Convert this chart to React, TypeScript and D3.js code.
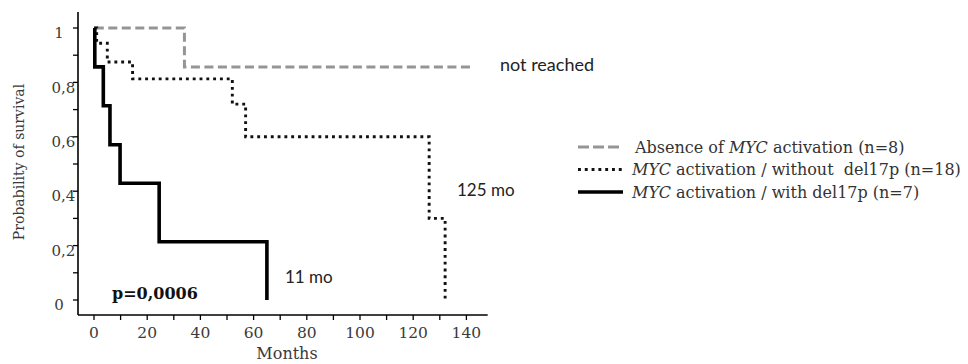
import React from "react";
import * as d3 from "d3";

type Pt = [number, number];

// Kaplan-Meier steps: [month, survival]
const absenceSteps: Pt[] = [[0.3, 1], [34, 1], [34, 0.857], [141.5, 0.857]];
const withoutDelSteps: Pt[] = [
  [0, 1], [1, 1], [1, 0.944], [5, 0.944], [5, 0.875], [14.5, 0.875], [14.5, 0.813],
  [52, 0.813], [52, 0.72], [57, 0.72], [57, 0.6], [126, 0.6], [126, 0.3],
  [132, 0.3], [132, 0],
];
const withDelSteps: Pt[] = [
  [0.3, 1], [0.3, 0.857], [3.5, 0.857], [3.5, 0.714], [6, 0.714], [6, 0.571],
  [9.8, 0.571], [9.8, 0.429], [24.5, 0.429], [24.5, 0.214], [65, 0.214], [65, 0],
];

const xTicks = [0, 20, 40, 60, 80, 100, 120, 140];
const xMinorTicks = [10, 30, 50, 70, 90, 110, 130];
const yTicks = [0, 0.2, 0.4, 0.6, 0.8, 1];
const yTickLabels = ["0", "0,2", "0,4", "0,6", "0,8", "1"];
const yMinorTicks = [0.1, 0.3, 0.5, 0.7, 0.9];

const legendItems = [
  { pre: "Absence of ", it: "MYC", post: " activation (n=8)", style: "dash" },
  { pre: "", it: "MYC", post: " activation / without  del17p (n=18)", style: "dot" },
  { pre: "", it: "MYC", post: " activation / with del17p (n=7)", style: "solid" },
];

const styles: Record<string, { stroke: string; width: number; dash?: string }> = {
  dash: { stroke: "#959595", width: 3, dash: "9,4.5" },
  dot: { stroke: "#111", width: 2.9, dash: "2.9,3.9" },
  solid: { stroke: "#000", width: 3.6 },
};

export default function App() {
  const x = d3.scaleLinear().domain([0, 140]).range([94, 466.4]);
  const y = d3.scaleLinear().domain([0, 1]).range([300, 28]);
  const line = d3.line<Pt>().x((d) => x(d[0])).y((d) => y(d[1]));
  const axisY = 315;
  const axisX = 78;
  const serif = "'DejaVu Serif', serif";
  const sans = "Lato, 'Open Sans', sans-serif";

  return (
    <svg width={968} height={364} style={{ position: "absolute", left: 0, top: 0, background: "#fff" }}>
      {/* axes */}
      <line x1={axisX} x2={axisX} y1={12} y2={axisY} stroke="#000" strokeWidth={1.6} />
      <line x1={axisX} x2={x(148)} y1={axisY} y2={axisY} stroke="#000" strokeWidth={1.6} />
      {yTicks.concat(yMinorTicks).map((t) => (
        <line key={"yt" + t} x1={axisX - 5} x2={axisX} y1={y(t)} y2={y(t)} stroke="#000" strokeWidth={1.3} />
      ))}
      {xTicks.concat(xMinorTicks).map((t) => (
        <line key={"xt" + t} x1={x(t)} x2={x(t)} y1={axisY} y2={axisY + 5} stroke="#000" strokeWidth={1.3} />
      ))}
      {yTicks.map((t, i) => (
        <text key={"yl" + t} x={yTickLabels[i].length > 1 ? 63.5 : 59} y={y(t) + 5} dy="0.35em"
          textAnchor="middle" fontFamily={serif} fontSize={15} fill="#3a3a3a">{yTickLabels[i]}</text>
      ))}
      {xTicks.map((t) => (
        <text key={"xl" + t} x={x(t)} y={333} dy="0.35em" textAnchor="middle"
          fontFamily={serif} fontSize={15.5} fill="#3a3a3a">{t}</text>
      ))}
      <text x={287} y={353} dy="0.35em" textAnchor="middle" fontFamily={serif} fontSize={16} fill="#3a3a3a">Months</text>
      <text transform="translate(19,162) rotate(-90)" dy="0.35em" textAnchor="middle"
        fontFamily={serif} fontSize={14} fill="#3a3a3a">Probability of survival</text>

      {/* curves */}
      <path d={line(absenceSteps) || ""} fill="none" stroke={styles.dash.stroke} strokeWidth={styles.dash.width} strokeDasharray={styles.dash.dash} />
      <path d={line(withoutDelSteps) || ""} fill="none" stroke={styles.dot.stroke} strokeWidth={styles.dot.width} strokeDasharray={styles.dot.dash} />
      <path d={line(withDelSteps) || ""} fill="none" stroke={styles.solid.stroke} strokeWidth={styles.solid.width} />

      {/* annotations */}
      <text x={500} y={65} dy="0.35em" fontFamily={sans} fontSize={18} fill="#222">not reached</text>
      <text x={457} y={190} dy="0.35em" fontFamily={sans} fontSize={17} fill="#222">125 mo</text>
      <text x={285} y={277} dy="0.35em" fontFamily={sans} fontSize={17} fill="#222">11 mo</text>
      <text x={112} y={293} dy="0.35em" fontFamily={serif} fontSize={16} fontWeight="bold" fill="#111">p=0,0006</text>

      {/* legend */}
      {legendItems.map((it, i) => {
        const ly = 147 + i * 22.5;
        const s = styles[it.style];
        return (
          <g key={i}>
            <line x1={578} x2={623} y1={ly} y2={ly} stroke={s.stroke} strokeWidth={s.width}
              strokeDasharray={it.style === "dash" ? "11,4" : s.dash} />
            <text x={i === 0 ? 635 : 632} y={ly} dy="0.35em" fontFamily={serif} fontSize={16}
              fill="#333" style={{ whiteSpace: "pre" }}>
              {it.pre}<tspan fontStyle="italic">{it.it}</tspan>{it.post}
            </text>
          </g>
        );
      })}
    </svg>
  );
}
